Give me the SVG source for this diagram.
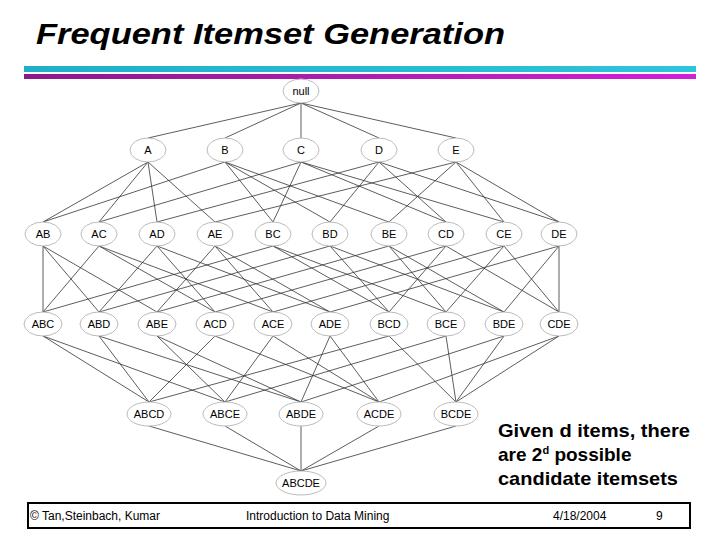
<svg xmlns="http://www.w3.org/2000/svg" width="720" height="540" viewBox="0 0 720 540">
<style>
.n ellipse{fill:#fff;stroke:#bbb;stroke-width:1}
.n text{font-family:"Liberation Sans",Arial,sans-serif;font-size:11px;text-anchor:middle;fill:#000}
.c path{fill:none;stroke:#333;stroke-width:0.8}
.f{font-family:"Liberation Sans",Arial,sans-serif;font-size:12px;fill:#000}
.g{font-family:"Liberation Sans",Arial,sans-serif;font-size:19px;font-weight:bold;fill:#000}
</style>
<rect width="720" height="540" fill="#fff"/>
<text x="36" y="44" font-family="Liberation Sans,Arial,sans-serif" font-size="30" font-weight="bold" font-style="italic" fill="#000" textLength="469" lengthAdjust="spacingAndGlyphs">Frequent Itemset Generation</text>
<defs>
<linearGradient id="cy" x1="0" x2="1"><stop offset="0" stop-color="#1fb0c8"/><stop offset="1" stop-color="#2ec4dc"/></linearGradient>
<linearGradient id="pu" x1="0" x2="1"><stop offset="0" stop-color="#8a1a8a"/><stop offset="1" stop-color="#d020d8"/></linearGradient>
</defs>
<rect x="24" y="66" width="672" height="6" fill="url(#cy)"/>
<rect x="24" y="74" width="672" height="5" fill="url(#pu)"/>
<g class="c" id="connectors">
<path d="M301,103L148,138M301,103L225,138M301,103L301,138M301,103L379,138M301,103L456,138"/>
<path d="M148,162L43,222M148,162L99,222M148,162L157,222M148,162L215,222
M225,162L43,222M225,162L273,222M225,162L330,222M225,162L389,222
M301,162L99,222M301,162L273,222M301,162L446,222M301,162L504,222
M379,162L157,222M379,162L330,222M379,162L446,222M379,162L559,222
M456,162L215,222M456,162L389,222M456,162L504,222M456,162L559,222"/>
<path d="M43,246L43,312M43,246L99,312M43,246L157,312
M99,246L43,312M99,246L215,312M99,246L273,312
M157,246L99,312M157,246L215,312M157,246L330,312
M215,246L157,312M215,246L273,312M215,246L330,312
M273,246L43,312M273,246L389,312M273,246L446,312
M330,246L99,312M330,246L389,312M330,246L504,312
M389,246L157,312M389,246L446,312M389,246L504,312
M446,246L215,312M446,246L389,312M446,246L559,312
M504,246L273,312M504,246L446,312M504,246L559,312
M559,246L330,312M559,246L504,312M559,246L559,312"/>
<path d="M43,336L149,402M43,336L225,402M99,336L149,402M99,336L301,402
M157,336L225,402M157,336L301,402M215,336L149,402M215,336L379,402
M273,336L225,402M273,336L379,402M330,336L301,402M330,336L379,402
M389,336L149,402M389,336L456,402M446,336L225,402M446,336L456,402
M504,336L301,402M504,336L456,402M559,336L379,402M559,336L456,402"/>
<path d="M149,426L301,471M225,426L301,471M301,426L301,471M379,426L301,471M456,426L301,471"/>
</g>
<g class="n" id="null"><ellipse cx="301" cy="91" rx="18" ry="12"/><text x="301" y="95">null</text></g>
<g class="n" id="A"><ellipse cx="148" cy="150" rx="18" ry="12"/><text x="148" y="154">A</text></g>
<g class="n" id="B"><ellipse cx="225" cy="150" rx="18" ry="12"/><text x="225" y="154">B</text></g>
<g class="n" id="C"><ellipse cx="301" cy="150" rx="18" ry="12"/><text x="301" y="154">C</text></g>
<g class="n" id="D"><ellipse cx="379" cy="150" rx="18" ry="12"/><text x="379" y="154">D</text></g>
<g class="n" id="E"><ellipse cx="456" cy="150" rx="18" ry="12"/><text x="456" y="154">E</text></g>
<g class="n" id="AB"><ellipse cx="43" cy="234" rx="18" ry="12"/><text x="43" y="238">AB</text></g>
<g class="n" id="AC"><ellipse cx="99" cy="234" rx="18" ry="12"/><text x="99" y="238">AC</text></g>
<g class="n" id="AD"><ellipse cx="157" cy="234" rx="18" ry="12"/><text x="157" y="238">AD</text></g>
<g class="n" id="AE"><ellipse cx="215" cy="234" rx="18" ry="12"/><text x="215" y="238">AE</text></g>
<g class="n" id="BC"><ellipse cx="273" cy="234" rx="18" ry="12"/><text x="273" y="238">BC</text></g>
<g class="n" id="BD"><ellipse cx="330" cy="234" rx="18" ry="12"/><text x="330" y="238">BD</text></g>
<g class="n" id="BE"><ellipse cx="389" cy="234" rx="18" ry="12"/><text x="389" y="238">BE</text></g>
<g class="n" id="CD"><ellipse cx="446" cy="234" rx="18" ry="12"/><text x="446" y="238">CD</text></g>
<g class="n" id="CE"><ellipse cx="504" cy="234" rx="18" ry="12"/><text x="504" y="238">CE</text></g>
<g class="n" id="DE"><ellipse cx="559" cy="234" rx="18" ry="12"/><text x="559" y="238">DE</text></g>
<g class="n" id="ABC"><ellipse cx="43" cy="324" rx="19" ry="12"/><text x="43" y="328">ABC</text></g>
<g class="n" id="ABD"><ellipse cx="99" cy="324" rx="19" ry="12"/><text x="99" y="328">ABD</text></g>
<g class="n" id="ABE"><ellipse cx="157" cy="324" rx="19" ry="12"/><text x="157" y="328">ABE</text></g>
<g class="n" id="ACD"><ellipse cx="215" cy="324" rx="19" ry="12"/><text x="215" y="328">ACD</text></g>
<g class="n" id="ACE"><ellipse cx="273" cy="324" rx="19" ry="12"/><text x="273" y="328">ACE</text></g>
<g class="n" id="ADE"><ellipse cx="330" cy="324" rx="19" ry="12"/><text x="330" y="328">ADE</text></g>
<g class="n" id="BCD"><ellipse cx="389" cy="324" rx="19" ry="12"/><text x="389" y="328">BCD</text></g>
<g class="n" id="BCE"><ellipse cx="446" cy="324" rx="19" ry="12"/><text x="446" y="328">BCE</text></g>
<g class="n" id="BDE"><ellipse cx="504" cy="324" rx="19" ry="12"/><text x="504" y="328">BDE</text></g>
<g class="n" id="CDE"><ellipse cx="559" cy="324" rx="19" ry="12"/><text x="559" y="328">CDE</text></g>
<g class="n" id="ABCD"><ellipse cx="149" cy="414" rx="22" ry="12"/><text x="149" y="418">ABCD</text></g>
<g class="n" id="ABCE"><ellipse cx="225" cy="414" rx="22" ry="12"/><text x="225" y="418">ABCE</text></g>
<g class="n" id="ABDE"><ellipse cx="301" cy="414" rx="22" ry="12"/><text x="301" y="418">ABDE</text></g>
<g class="n" id="ACDE"><ellipse cx="379" cy="414" rx="22" ry="12"/><text x="379" y="418">ACDE</text></g>
<g class="n" id="BCDE"><ellipse cx="456" cy="414" rx="22" ry="12"/><text x="456" y="418">BCDE</text></g>
<g class="n" id="ABCDE"><ellipse cx="301" cy="483" rx="25" ry="12"/><text x="301" y="487">ABCDE</text></g>
<text class="g" x="498" y="437" textLength="192" lengthAdjust="spacingAndGlyphs">Given d items, there</text>
<text class="g" x="498" y="461">are 2<tspan font-size="11" dy="-7">d</tspan><tspan dy="7"> possible</tspan></text>
<text class="g" x="498" y="485" textLength="180" lengthAdjust="spacingAndGlyphs">candidate itemsets</text>
<rect x="28" y="503" width="662" height="25" fill="none" stroke="#000" stroke-width="2"/>
<text class="f" x="30" y="520">© Tan,Steinbach, Kumar</text>
<text class="f" x="246" y="520">Introduction to Data Mining</text>
<text class="f" x="553" y="520">4/18/2004</text>
<text class="f" x="656" y="520">9</text>
</svg>
